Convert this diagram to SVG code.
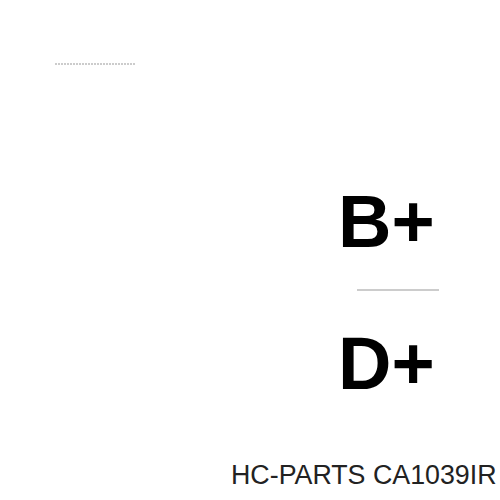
<svg xmlns="http://www.w3.org/2000/svg" width="500" height="500" viewBox="0 0 500 500">
<style>
.big{font-family:"Liberation Sans",Arial,sans-serif;font-weight:bold;font-size:74px;fill:#000}
.lbl{font-family:"Liberation Sans",Arial,sans-serif;font-size:26.8px;fill:#222}
.ln{stroke:#9a9a9a;stroke-width:1.2}
</style>
<rect width="500" height="500" fill="#fff"/>
<g id="lines">
<line class="ln" x1="55" y1="64" x2="135" y2="64" stroke-dasharray="2 1"/>
<line class="ln" x1="357" y1="290" x2="439" y2="290"/>
</g>
<g id="bplus"><text class="big" x="338" y="247">B+</text></g>
<g id="dplus"><text class="big" x="338" y="389">D+</text></g>
<g id="caption"><text class="lbl" x="231" y="484">HC-PARTS CA1039IR</text></g>
</svg>
